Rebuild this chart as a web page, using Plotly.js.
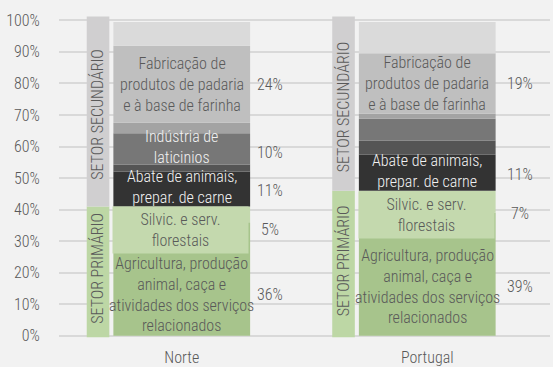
<!DOCTYPE html>
<html>
<head>
<meta charset="utf-8">
<script src="https://cdn.plot.ly/plotly-3.0.1.min.js"></script>
<style>html,body{margin:0;padding:0;background:#f2f2f2;}#chart{width:553px;height:367px;}</style>
</head>
<body>
<div id="chart"></div>
<script>
// ---- data ----
const categories = ['Norte', 'Portugal'];
const yTicks = [0, 10, 20, 30, 40, 50, 60, 70, 80, 90, 100];

// stacked shares, bottom to top (%)
const agricultura = [36, 39];
const silvicultura = [5, 7];
const abate = [11.1, 11.4];
const outrasIndA = [2.2, 4.5];
const laticinios = [9.9, 6.9];
const outrasIndB = [3.3, 1.6];
const padaria = [24.4, 19.2];
const outrasIndC = [7.6, 9.9];

// labels shown next to the bars
const pctAgricultura = ['36%', '39%'];
const pctSilvicultura = ['5%', '7%'];
const pctAbate = ['11%', '11%'];
const pctLaticinios = ['10%', ''];
const pctPadaria = ['24%', '19%'];

const txtAgricultura = 'Agricultura, produção<br>animal, caça e<br>atividades dos serviços<br>relacionados';
const txtSilvicultura = 'Silvic. e serv.<br>florestais';
const txtAbate = 'Abate de animais,<br>prepar. de carne';
const txtLaticinios = ['Indústria de<br>laticinios', ''];
const txtPadaria = 'Fabricação de<br>produtos de padaria<br>e à base de farinha';

const sectorSec = 'SETOR SECUNDÁRIO';
const sectorPrim = 'SETOR PRIMÁRIO';

// ---- build ----
const FONT = 'Roboto Condensed, Roboto, sans-serif';
const GREY_TXT = '#595959';
const W = 300;
const xs = categories.map((_, i) => i);

const segments = [
  {name: 'Agricultura', v: agricultura, color: '#a7c48c'},
  {name: 'Silvicultura', v: silvicultura, color: '#c4d9ae'},
  {name: 'Abate', v: abate, color: '#333333'},
  {name: 'Outras A', v: outrasIndA, color: '#555555'},
  {name: 'Laticínios', v: laticinios, color: '#777777'},
  {name: 'Outras B', v: outrasIndB, color: '#a3a3a3'},
  {name: 'Padaria', v: padaria, color: '#bfbfbf'},
  {name: 'Outras C', v: outrasIndC, color: '#dadada'}
];

const BAR_W = 0.557;
const traces = [];
const cum = xs.map(() => 0);
const bounds = {};
segments.forEach(s => {
  const base = cum.slice();
  traces.push({
    type: 'bar', x: xs, y: s.v, base: base, width: BAR_W,
    marker: {color: s.color, line: {width: 0}},
    hoverinfo: 'skip', showlegend: false
  });
  bounds[s.name] = xs.map((_, i) => [base[i], base[i] + s.v[i]]);
  xs.forEach((_, i) => cum[i] += s.v[i]);
});

// sector side bars
const primTotal = xs.map(i => agricultura[i] + silvicultura[i]);
const SIDE_X = -0.341, SIDE_W = 0.092, LOW = -0.45, HIGH = 101.2;
traces.push({
  type: 'bar', x: xs.map(i => i + SIDE_X), y: primTotal.map(t => t - LOW), base: xs.map(() => LOW),
  width: SIDE_W, marker: {color: '#bdd7a5', line: {width: 0}}, hoverinfo: 'skip', showlegend: false
});
traces.push({
  type: 'bar', x: xs.map(i => i + SIDE_X), y: primTotal.map(t => HIGH - t), base: primTotal,
  width: SIDE_W, marker: {color: '#d0cfd0', line: {width: 0}}, hoverinfo: 'skip', showlegend: false
});

const PX_PER_UNIT = 325 / 103;
const ann = [];
const mid = b => (b[0] + b[1]) / 2;
const PCT_X = [0.36, 0.378];
const f = (size, color) => ({family: FONT, size: size, color: color, weight: W});

xs.forEach(i => {
  // secondary sector labels
  const pad = mid(bounds['Padaria'][i]);
  ann.push({x: i, y: pad, text: txtPadaria, font: f(16, GREY_TXT)});
  ann.push({x: i + PCT_X[i], y: pad, text: pctPadaria[i], font: f(16, GREY_TXT)});
  const lat = mid(bounds['Laticínios'][i]);
  if (txtLaticinios[i]) ann.push({x: i, y: lat + 0.5, text: txtLaticinios[i], font: f(16, '#f2f2f2')});
  if (pctLaticinios[i]) ann.push({x: i + PCT_X[i], y: lat - 1, text: pctLaticinios[i], font: f(16, GREY_TXT)});
  const ab = mid(bounds['Abate'][i]);
  ann.push({x: i, y: ab + 0.5, text: txtAbate, font: f(16, '#f2f2f2')});
  ann.push({x: i + PCT_X[i], y: ab - 0.5, text: pctAbate[i], font: f(16, GREY_TXT)});

  // primary sector label boxes
  const top = primTotal[i];
  const boxH = 46;
  const boxBottom = top - boxH / PX_PER_UNIT;
  ann.push({x: i - 0.004, y: top, yanchor: 'top', width: 135, height: boxH, borderpad: 0,
    bgcolor: '#c4d9ae', text: txtSilvicultura, font: f(16, GREY_TXT)});
  ann.push({x: i + PCT_X[i], y: (top + boxBottom) / 2, text: pctSilvicultura[i], font: f(16, GREY_TXT)});
  ann.push({x: i, y: boxBottom / 2, text: txtAgricultura, font: f(16, GREY_TXT)});
  ann.push({x: i + PCT_X[i], y: boxBottom / 2, text: pctAgricultura[i], font: f(16, GREY_TXT)});

  // sector names on side bars
  ann.push({x: i + SIDE_X, y: (top + HIGH) / 2 - 1, text: sectorSec, textangle: -90, font: f(16, GREY_TXT)});
  ann.push({x: i + SIDE_X, y: (top + LOW) / 2 + 1, text: sectorPrim, textangle: -90, font: f(16, GREY_TXT)});
});
ann.forEach(a => { a.showarrow = false; a.xref = 'x'; a.yref = 'y'; });

const layout = {
  width: 553, height: 367,
  paper_bgcolor: '#f2f2f2', plot_bgcolor: '#f2f2f2',
  margin: {l: 59, r: 3, t: 14, b: 28},
  barmode: 'overlay',
  showlegend: false,
  font: {family: FONT, color: GREY_TXT, size: 16, weight: W},
  xaxis: {
    range: [-0.5, 1.5], tickvals: xs, ticktext: categories,
    showgrid: false, zeroline: false, showline: false,
    ticks: 'outside', ticklen: 4, tickcolor: 'rgba(0,0,0,0)',
    tickfont: f(16, GREY_TXT), fixedrange: true
  },
  yaxis: {
    range: [-1, 102], tickvals: yTicks, ticktext: yTicks.map(v => v + '%'),
    showgrid: true, gridcolor: '#d9d9d9', gridwidth: 2, zeroline: false, showline: false,
    ticks: 'outside', ticklen: 15, tickcolor: 'rgba(0,0,0,0)',
    tickfont: f(16, GREY_TXT), fixedrange: true
  },
  annotations: ann
};

Plotly.newPlot('chart', traces, layout, {staticPlot: true, displayModeBar: false});
</script>
</body>
</html>
